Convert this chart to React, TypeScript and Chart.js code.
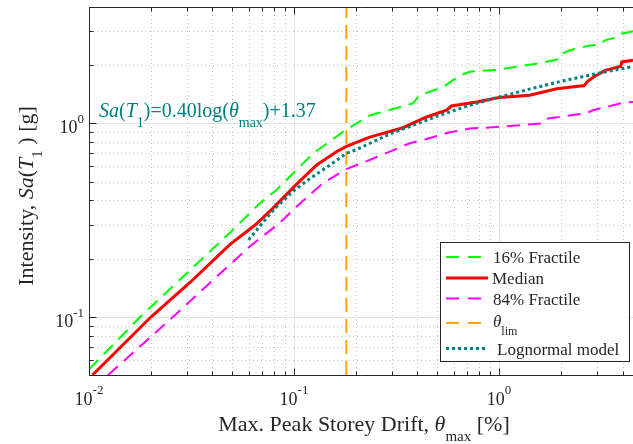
import React, { useEffect, useRef } from "react";
import { Chart, registerables } from "chart.js";

Chart.register(...registerables);

// ---- data ----
const fractile16X = [0.01, 0.0178, 0.0504, 0.0667, 0.082, 0.124, 0.18, 0.234, 0.38, 0.41, 0.533, 0.643, 0.72, 1.0, 1.58, 1.98, 2.05, 2.21, 2.77, 3.1, 3.28, 3.81, 3.95, 4.5];
const fractile16Y = [0.0535, 0.1, 0.282, 0.379, 0.453, 0.7, 0.93, 1.1, 1.27, 1.4, 1.54, 1.77, 1.85, 1.9, 2.05, 2.16, 2.3, 2.39, 2.53, 2.55, 2.69, 2.8, 2.91, 3.0];

const medianX = [0.0104, 0.0201, 0.031, 0.0486, 0.065, 0.079, 0.103, 0.129, 0.161, 0.18, 0.234, 0.34, 0.443, 0.554, 0.586, 0.776, 1.0, 1.41, 1.91, 2.6, 2.72, 2.95, 3.3, 3.81, 3.92, 3.97, 4.5];
const medianY = [0.05, 0.1, 0.15, 0.236, 0.3, 0.365, 0.485, 0.61, 0.714, 0.76, 0.85, 0.95, 1.08, 1.17, 1.23, 1.29, 1.36, 1.4, 1.51, 1.57, 1.66, 1.76, 1.88, 1.96, 1.97, 2.08, 2.12];

const fractile84X = [0.0124, 0.0257, 0.0608, 0.085, 0.103, 0.138, 0.18, 0.234, 0.367, 0.443, 0.575, 0.72, 1.0, 1.64, 1.73, 2.67, 2.87, 4.03, 4.5];
const fractile84Y = [0.05, 0.1, 0.231, 0.305, 0.372, 0.49, 0.58, 0.647, 0.79, 0.83, 0.9, 0.94, 0.96, 1.0, 1.06, 1.13, 1.17, 1.28, 1.29];

const lognormalX = [0.06, 0.07, 0.08, 0.1, 0.12, 0.15, 0.18, 0.2, 0.3, 0.5, 0.7, 1, 1.5, 2, 3, 4.5];
const lognormalY = [0.25, 0.305, 0.36, 0.45, 0.52, 0.61, 0.7, 0.73, 0.89, 1.09, 1.23, 1.37, 1.53, 1.65, 1.81, 1.97];

const thetaLim = 0.18;

const xTickExponents = [-2, -1, 0];
const yTickExponents = [-1, 0];

const X_MIN = 0.01;
const X_MAX = 4.5;
const Y_MIN = 0.05;
const Y_MAX = 4;

const legendLabels = ["16% Fractile", "Median", "84% Fractile", "θ", "Lognormal model"];

// ---- styling ----
const SERIF = '"Liberation Serif", "Times New Roman", serif';
const GREEN = "#00ff00";
const RED = "#ff0000";
const MAGENTA = "#ff00ff";
const ORANGE = "#ffa500";
const TEAL = "#008080";
const AXIS = "#262626";
const TEXT = "#262626";

type Part = { t: string; size: number; italic?: boolean; dy?: number };

const fontOf = (p: Part) => `${p.italic ? "italic " : ""}${p.size}px ${SERIF}`;

function richWidth(ctx: CanvasRenderingContext2D, parts: Part[]) {
  let w = 0;
  for (const p of parts) {
    ctx.font = fontOf(p);
    w += ctx.measureText(p.t).width;
  }
  return w;
}

function drawRich(ctx: CanvasRenderingContext2D, parts: Part[], x: number, y: number, align: "left" | "center" | "right") {
  const w = richWidth(ctx, parts);
  let cx = align === "center" ? x - w / 2 : align === "right" ? x - w : x;
  ctx.textAlign = "left";
  ctx.textBaseline = "alphabetic";
  for (const p of parts) {
    ctx.font = fontOf(p);
    ctx.fillText(p.t, cx, y + (p.dy || 0));
    cx += ctx.measureText(p.t).width;
  }
}

function logValues(min: number, max: number) {
  const out: { v: number; major: boolean }[] = [];
  for (let e = Math.floor(Math.log10(min)) - 1; e <= Math.ceil(Math.log10(max)) + 1; e++) {
    for (let m = 1; m <= 9; m++) {
      const v = m * Math.pow(10, e);
      if (v >= min * 0.9999 && v <= max * 1.0001) out.push({ v, major: m === 1 });
    }
  }
  return out;
}

const decorPlugin = {
  id: "decor",
  beforeDatasetsDraw(chart: any) {
    const { ctx, chartArea: a, scales } = chart;
    const xs = scales.x;
    const ys = scales.y;
    ctx.save();
    ctx.lineWidth = 1;
    // minor grid
    ctx.setLineDash([1, 3]);
    ctx.strokeStyle = "#c4c4c4";
    for (const { v, major } of logValues(X_MIN, X_MAX)) {
      if (major) continue;
      const px = Math.round(xs.getPixelForValue(v)) + 0.5;
      ctx.beginPath();
      ctx.moveTo(px, a.top);
      ctx.lineTo(px, a.bottom);
      ctx.stroke();
    }
    for (const { v, major } of logValues(Y_MIN, Y_MAX)) {
      if (major) continue;
      const py = Math.round(ys.getPixelForValue(v)) + 0.5;
      ctx.beginPath();
      ctx.moveTo(a.left, py);
      ctx.lineTo(a.right, py);
      ctx.stroke();
    }
    // major grid
    ctx.setLineDash([]);
    ctx.strokeStyle = "#e3e3e3";
    for (const { v, major } of logValues(X_MIN, X_MAX)) {
      if (!major) continue;
      const px = Math.round(xs.getPixelForValue(v)) + 0.5;
      ctx.beginPath();
      ctx.moveTo(px, a.top);
      ctx.lineTo(px, a.bottom);
      ctx.stroke();
    }
    for (const { v, major } of logValues(Y_MIN, Y_MAX)) {
      if (!major) continue;
      const py = Math.round(ys.getPixelForValue(v)) + 0.5;
      ctx.beginPath();
      ctx.moveTo(a.left, py);
      ctx.lineTo(a.right, py);
      ctx.stroke();
    }
    ctx.restore();
  },
  afterDatasetsDraw(chart: any) {
    const { ctx, chartArea: a, scales } = chart;
    const xs = scales.x;
    const ys = scales.y;
    ctx.save();
    // axes box
    ctx.strokeStyle = AXIS;
    ctx.lineWidth = 1;
    ctx.setLineDash([]);
    const L = Math.round(a.left) + 0.5;
    const B = Math.round(a.bottom) + 0.5;
    const T = Math.round(a.top) + 0.5;
    ctx.beginPath();
    ctx.moveTo(L, T);
    ctx.lineTo(a.right, T);
    ctx.moveTo(L, T);
    ctx.lineTo(L, B);
    ctx.lineTo(a.right, B);
    ctx.stroke();
    // ticks
    ctx.beginPath();
    for (const { v, major } of logValues(X_MIN, X_MAX)) {
      const px = Math.round(xs.getPixelForValue(v)) + 0.5;
      const len = major ? 7 : 4;
      ctx.moveTo(px, B);
      ctx.lineTo(px, B - len);
      ctx.moveTo(px, T);
      ctx.lineTo(px, T + len);
    }
    for (const { v, major } of logValues(Y_MIN, Y_MAX)) {
      const py = Math.round(ys.getPixelForValue(v)) + 0.5;
      const len = major ? 7 : 4;
      ctx.moveTo(L, py);
      ctx.lineTo(L + len, py);
    }
    ctx.stroke();

    // tick labels
    ctx.fillStyle = TEXT;
    for (const e of xTickExponents) {
      const px = xs.getPixelForValue(Math.pow(10, e));
      drawRich(ctx, [{ t: "10", size: 18 }, { t: String(e), size: 13, dy: -11 }], px, a.bottom + 30, "center");
    }
    for (const e of yTickExponents) {
      const py = ys.getPixelForValue(Math.pow(10, e));
      drawRich(ctx, [{ t: "10", size: 18 }, { t: String(e), size: 13, dy: -10 }], a.left - 5, py + 10, "right");
    }

    // x title
    drawRich(
      ctx,
      [
        { t: "Max. Peak Storey Drift, ", size: 22 },
        { t: "θ", size: 22, italic: true },
        { t: "max", size: 15, dy: 10 },
        { t: " [%]", size: 22 },
      ],
      (a.left + a.right) / 2 + 3,
      431,
      "center"
    );

    // y title (rotated)
    ctx.save();
    ctx.translate(33, (a.top + a.bottom) / 2 + 5);
    ctx.rotate(-Math.PI / 2);
    drawRich(
      ctx,
      [
        { t: "Intensity, ", size: 22 },
        { t: "Sa", size: 22, italic: true },
        { t: "(", size: 22 },
        { t: "T", size: 22, italic: true },
        { t: "1", size: 15, dy: 9 },
        { t: " ) [g]", size: 22 },
      ],
      0,
      0,
      "center"
    );
    ctx.restore();

    // equation annotation
    ctx.fillStyle = TEAL;
    drawRich(
      ctx,
      [
        { t: "Sa", size: 20, italic: true },
        { t: "(", size: 20 },
        { t: "T", size: 20, italic: true },
        { t: "1", size: 14, dy: 10 },
        { t: ")=0.40log(", size: 20 },
        { t: "θ", size: 20, italic: true },
        { t: "max", size: 14, dy: 10 },
        { t: ")+1.37", size: 20 },
      ],
      99,
      117,
      "left"
    );

    // legend
    const bx = 440.5, by = 242.5, bw = 189, bh = 119;
    ctx.fillStyle = "#ffffff";
    ctx.fillRect(bx, by, bw, bh);
    ctx.strokeStyle = AXIS;
    ctx.lineWidth = 1;
    ctx.strokeRect(bx, by, bw, bh);

    const sx0 = 446, sx1 = 488;
    const rows = [
      { y: 257, color: GREEN, dash: [13, 9], w: 2 },
      { y: 278, color: RED, dash: [], w: 3 },
      { y: 298.5, color: MAGENTA, dash: [13, 9], w: 2 },
      { y: 323, color: ORANGE, dash: [13, 9], w: 2 },
      { y: 348.5, color: TEAL, dash: [3, 3], w: 3 },
    ];
    for (const r of rows) {
      ctx.strokeStyle = r.color;
      ctx.lineWidth = r.w;
      ctx.setLineDash(r.dash);
      ctx.beginPath();
      ctx.moveTo(sx0, r.y);
      ctx.lineTo(sx1, r.y);
      ctx.stroke();
    }
    ctx.setLineDash([]);
    ctx.fillStyle = TEXT;
    drawRich(ctx, [{ t: legendLabels[0], size: 17 }], 493, 263, "left");
    drawRich(ctx, [{ t: legendLabels[1], size: 17 }], 492, 284, "left");
    drawRich(ctx, [{ t: legendLabels[2], size: 17 }], 493, 304.5, "left");
    drawRich(ctx, [{ t: legendLabels[3], size: 17, italic: true }, { t: "lim", size: 12, dy: 8 }], 493, 326.5, "left");
    drawRich(ctx, [{ t: legendLabels[4], size: 17 }], 497, 354.5, "left");

    ctx.restore();
  },
};

const pts = (xs: number[], ys: number[]) => xs.map((x, i) => ({ x, y: ys[i] }));

export default function App() {
  const ref = useRef<HTMLCanvasElement | null>(null);

  useEffect(() => {
    if (!ref.current) return;
    const chart = new Chart(ref.current, {
      type: "scatter",
      data: {
        datasets: [
          {
            label: "16% Fractile",
            data: pts(fractile16X, fractile16Y),
            showLine: true,
            borderColor: GREEN,
            borderWidth: 2,
            borderDash: [13, 8],
            pointRadius: 0,
            order: 5,
          },
          {
            label: "Median",
            data: pts(medianX, medianY),
            showLine: true,
            borderColor: RED,
            borderWidth: 3,
            pointRadius: 0,
            order: 4,
          },
          {
            label: "84% Fractile",
            data: pts(fractile84X, fractile84Y),
            showLine: true,
            borderColor: MAGENTA,
            borderWidth: 2,
            borderDash: [13, 8],
            pointRadius: 0,
            order: 3,
          },
          {
            label: "θlim",
            data: [
              { x: thetaLim, y: Y_MIN },
              { x: thetaLim, y: Y_MAX },
            ],
            showLine: true,
            borderColor: ORANGE,
            borderWidth: 2,
            borderDash: [14, 7],
            pointRadius: 0,
            order: 2,
          },
          {
            label: "Lognormal model",
            data: pts(lognormalX, lognormalY),
            showLine: true,
            borderColor: TEAL,
            borderWidth: 3,
            borderDash: [3, 3],
            pointRadius: 0,
            order: 1,
          },
        ] as any,
      },
      options: {
        animation: false,
        responsive: false,
        devicePixelRatio: 1,
        layout: { padding: { left: 89, top: 7, right: 0, bottom: 69 } },
        plugins: { legend: { display: false }, tooltip: { enabled: false } },
        events: [],
        scales: {
          x: { type: "logarithmic", min: X_MIN, max: X_MAX, display: false, bounds: "data" } as any,
          y: { type: "logarithmic", min: Y_MIN, max: Y_MAX, display: false, bounds: "data" } as any,
        },
      },
      plugins: [decorPlugin],
    });
    return () => chart.destroy();
  }, []);

  return (
    <div style={{ position: "fixed", left: 0, top: 0, width: 633, height: 444, background: "#ffffff" }}>
      <canvas ref={ref} width={633} height={444} style={{ display: "block", width: 633, height: 444 }} />
    </div>
  );
}
